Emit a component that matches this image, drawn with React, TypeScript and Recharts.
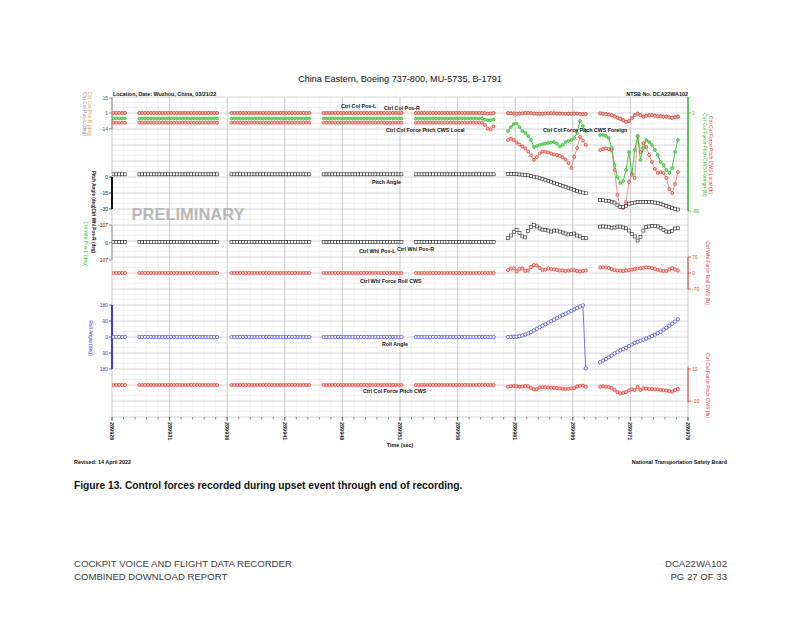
import React from 'react';
import { ComposedChart, Line, XAxis, YAxis, ReferenceLine } from 'recharts';

// ---------------- DATA ----------------
// x axis: time (sec)
const TIME_TICKS = [289926, 289931, 289936, 289941, 289946, 289951, 289956, 289961, 289966, 289971, 289976];
// each recorded block starts at these times, sampled every 0.25 s
const SEGMENT_STARTS = [289926.125, 289928.375, 289936.375, 289944.375, 289952.375, 289960.375, 289968.375];
const SAMPLE_STEP = 0.25;

const COL_POS_CRUISE = [1,1,1,1,1,1,1, 1,1,1,1,1,1,1, 1,1,1,1,1,1,1, 1,1,1,1,1,1,1];
const COL_POS_L = [
  COL_POS_CRUISE.slice(23), COL_POS_CRUISE, COL_POS_CRUISE, COL_POS_CRUISE,
  [1,1,1,1,1,1,1, 1,1,1,1,1,1,1, 1,1,1,1,1,1,1, 1,1,1,0.8,0.5,0.6,0.9],
  [1,0.9,0.6,0.4,0.5,0.8,1, 1.1,0.9,0.6,0.4,0.3,0.4,0.6, 0.7,0.8,0.7,0.6,0.5,0.4,0.3, 0.3,0.4,0.5,0.4,0.2,0,0.1],
  [0.7,0.5,0.1,-0.4,-0.9,-1.8,-3.2, -4.2,-5.6,-7,-6.5,-3.7,-0.9,0.5, -0.9,-2.3,-1.3,-0.9,-0.9,-1.3,-1.8, -1.8,-2.3,-2.3,-2.8,-3.2,-2.8,-2.3],
];
const COL_POS_R = [
  COL_POS_CRUISE.slice(23), COL_POS_CRUISE, COL_POS_CRUISE, COL_POS_CRUISE,
  [1,1,1,1,1,1,1, 1,1,1,1,1,1,1, 1,1,1,1,1,1,1, 1,1,1,0.7,0.4,0.5,0.8],
  [0.8,0.7,0.5,0.3,0.4,0.6,0.9, 1,0.8,0.5,0.3,0.2,0.3,0.5, 0.6,0.7,0.6,0.5,0.4,0.3,0.2, 0.2,0.3,0.4,0.3,0.1,-0.1,0],
  [0.5,0.3,-0.1,-0.6,-1.2,-2.1,-3.6, -4.6,-6,-7.4,-6.8,-4,-1.2,0.2, -1.2,-2.6,-1.6,-1.2,-1.2,-1.6,-2.1, -2.1,-2.6,-2.6,-3.1,-3.5,-3.1,-2.6],
];

const FORCE_LOCAL_CRUISE = [-7,-7,-7,-7,-7,-7,-7, -7,-7,-7,-7,-7,-7,-7, -7,-7,-7,-7,-7,-7,-7, -7,-7,-7,-7,-7,-7,-7];
const CWS_LOCAL = [
  FORCE_LOCAL_CRUISE.slice(23), FORCE_LOCAL_CRUISE, FORCE_LOCAL_CRUISE, FORCE_LOCAL_CRUISE,
  [-7,-7,-7,-7,-7,-7,-7, -7,-7,-7,-7,-7,-7,-7, -7,-7,-7,-7,-7,-7,-7, -7,-7,-7,-9,-12,-12.5,-10],
  [-21.3,-20.1,-21.3,-23.4,-25,-26.7,-28.3, -30.8,-34.1,-37.8,-35.3,-32.5,-30.8,-31.2, -31.6,-32.5,-33.3,-33.7,-34.5,-35.8,-37.4, -40.3,-44.5,-35.3,-27.9,-18.8,-21.7,-25.4],
  [-29.6,-28.8,-28.3,-28.8,-29.6,-46.1,-66.8, -76.7,-77.5,-72.6,-56,-49.4,-52.7,-18, -31.2,-23.8,-27.1,-33.7,-39.5,-45.3,-48.6, -47.8,-48.6,-52.7,-61.8,-65.1,-57.7,-47.8],
];

const FORCE_FOREIGN_CRUISE = [-3.5,-3.5,-3.5,-3.5,-3.5,-3.5,-3.5, -3.5,-3.5,-3.5,-3.5,-3.5,-3.5,-3.5, -3.5,-3.5,-3.5,-3.5,-3.5,-3.5,-3.5, -3.5,-3.5,-3.5,-3.5,-3.5,-3.5,-3.5];
const CWS_FOREIGN = [
  FORCE_FOREIGN_CRUISE.slice(23), FORCE_FOREIGN_CRUISE, FORCE_FOREIGN_CRUISE, FORCE_FOREIGN_CRUISE,
  [-3.5,-3.5,-3.5,-3.5,-3.5,-3.5,-3.5, -3.5,-3.5,-3.5,-3.5,-3.5,-3.5,-3.5, -3.5,-3.5,-3.5,-3.5,-3.5,-3.5,-3.5, -3.5,-3.5,-3.5,-4.5,-5,-5,-4.5],
  [-13.9,-10.6,-8.1,-7.7,-10.6,-13.9,-15.5, -18,-21.3,-27.1,-26.3,-25.4,-24.6,-24.2, -23.8,-23.4,-23,-24.2,-26.7,-25.4,-23, -22.1,-21.3,-19.7,-15.5,-5.6,-9.7,-13.9],
  [-17.2,-17.2,-18,-19.7,-27.9,-42,-51.9, -56.9,-55.2,-46.1,-31.2,-50.2,-29.6,-18, -37.8,-27.9,-21.3,-23,-25.4,-29.6,-33.7, -39.5,-42,-46.1,-48.6,-44.5,-31.2,-21.3],
];

const PITCH_CRUISE = [2.5,2.5,2.5,2.5,2.5,2.5,2.5, 2.5,2.5,2.5,2.5,2.5,2.5,2.5, 2.5,2.5,2.5,2.5,2.5,2.5,2.5, 2.5,2.5,2.5,2.5,2.5,2.5,2.5];
const PITCH_ANGLE = [
  PITCH_CRUISE.slice(23), PITCH_CRUISE, PITCH_CRUISE, PITCH_CRUISE, PITCH_CRUISE,
  [2.8,2.8,2.7,2.6,2.4,2.2,1.9, 1.6,1,0.3,-0.3,-1.2,-2,-2.9, -3.8,-4.7,-5.7,-6.6,-7.5,-8.4,-9.4, -10.3,-11.2,-12.1,-13,-13.8,-14.6,-15.3],
  [-21.5,-21.8,-22.2,-22.6,-23.2,-24,-26.5, -28,-28,-27,-25.5,-24.5,-24,-23.6, -23.4,-23.3,-23.3,-23.4,-23.6,-24,-24.6, -25.3,-26.1,-27,-27.9,-28.8,-29.7,-30.5],
];

const WHL_POS_CRUISE = [-3,-3,-3,-3,-3,-3,-3, -3,-3,-3,-3,-3,-3,-3, -3,-3,-3,-3,-3,-3,-3, -3,-3,-3,-3,-3,-3,-3];
const WHL_POS = [
  WHL_POS_CRUISE.slice(23), WHL_POS_CRUISE, WHL_POS_CRUISE, WHL_POS_CRUISE, WHL_POS_CRUISE,
  [-26,-43,-64,-76,-58,-37,-31, -70,-95,-107,-98,-86,-79,-76, -73,-67,-73,-73,-67,-61,-55, -49,-52,-55,-43,-37,-28,-26],
  [-97,-98,-97,-95,-89,-92,-97, -97,-92,-87,-73,-52,-37,-12, -34,-73,-95,-98,-101,-101,-98, -89,-76,-67,-66,-70,-86,-87],
];

const ZERO_CRUISE = [0,0,0,0,0,0,0, 0,0,0,0,0,0,0, 0,0,0,0,0,0,0, 0,0,0,0,0,0,0];
const WHL_FORCE = [
  ZERO_CRUISE.slice(23), ZERO_CRUISE, ZERO_CRUISE, ZERO_CRUISE, ZERO_CRUISE,
  [13,20,20,7,17,20,9, 11,26,35,33,22,13,15, 20,17,15,13,11,11,9, 11,13,13,9,7,9,11],
  [24,25,24,22,17,13,11, 10,9,11,13,15,17,20, 21,23,25,24,21,17,14, 11,9,9,15,21,15,11],
];

const ROLL_ANGLE = [
  ZERO_CRUISE.slice(23), ZERO_CRUISE, ZERO_CRUISE, ZERO_CRUISE, ZERO_CRUISE,
  [0,-0.5,-1,-2,-5,-9,-14, -20,-28,-37,-46,-55,-63,-72, -80,-89,-98,-106,-115,-124,-131, -139,-147,-155,-163,-171,-178,176],
  [142,133,124,114,104,92,84, 75,68,60,51,42,33,27, 21,15,9,2,-6,-13,-22, -30,-41,-52,-63,-75,-87,-100],
];

const COL_CWS = [
  ZERO_CRUISE.slice(23), ZERO_CRUISE, ZERO_CRUISE, ZERO_CRUISE, ZERO_CRUISE,
  [-1.1,-0.8,-0.6,-0.8,-1.1,-0.9,-0.6, -0.8,-1.9,-2.7,-2.5,-1.6,-1.4,-1.4, -1.6,-1.7,-1.8,-1.9,-2.1,-2.3,-2.5, -2.3,-2.1,-1.9,-0.9,-0.5,-0.4,-1.1],
  [-1.1,-0.9,-1.1,-1.3,-1.9,-3.1,-4.4, -5.2,-5,-4.4,-3.4,-2.7,-3.1,-1.3, -3.1,-2.1,-2.2,-2.5,-2.6,-2.7,-2.8, -3.1,-3.3,-3.4,-3.8,-4.2,-3.1,-2.5],
];

// axis tick labels
const COL_POS_TICKS = [15, 1, -14];
const COL_FORCE_TICKS = [1, -80];
const PITCH_TICKS = [0, -15, -30];
const WHL_POS_TICKS = [-107, 0, 107];
const WHL_FORCE_TICKS = [70, 0, -70];
const ROLL_TICKS = [-180, -90, 0, 90, 180];
const COL_CWS_TICKS = [10, -10];

// ---------------- BUILD TABLE ----------------
const SERIES: Record<string, number[][]> = {
  colPosL: COL_POS_L, colPosR: COL_POS_R, cwsLocal: CWS_LOCAL, cwsForeign: CWS_FOREIGN,
  pitch: PITCH_ANGLE, whlPos: WHL_POS, whlForce: WHL_FORCE, roll: ROLL_ANGLE, colCws: COL_CWS,
};
const KEYS = Object.keys(SERIES);
const ROWS: any[] = [];
SEGMENT_STARTS.forEach((start, s) => {
  const n = Math.max(...KEYS.map((k) => SERIES[k][s].length));
  for (let i = 0; i < n; i++) {
    const row: any = { t: start + i * SAMPLE_STEP };
    KEYS.forEach((k) => { const v = SERIES[k][s][i]; row[k] = v === undefined ? null : v; });
    ROWS.push(row);
  }
  if (s < SEGMENT_STARTS.length - 1) {
    const gap: any = { t: start + (n - 1) * SAMPLE_STEP + 0.6 };
    KEYS.forEach((k) => { gap[k] = null; });
    ROWS.push(gap);
  }
});

// ---------------- LAYOUT ----------------
const PLOT_TOP = 97;
const PLOT_BOTTOM = 417;
const PLOT_LEFT = 112;
const PLOT_RIGHT = 688;
const T0 = TIME_TICKS[0];
const T1 = TIME_TICKS[TIME_TICKS.length - 1];
const TIME_MINOR = Array.from({ length: T1 - T0 + 1 }, (_, i) => T0 + i);
const GRID_LINES = Array.from({ length: 61 }, (_, i) => i);

function anchorDomain(v1: number, p1: number, v2: number, p2: number) {
  const s = (p2 - p1) / (v2 - v1);
  const atTop = v1 + (PLOT_TOP - p1) / s;
  const atBottom = v1 + (PLOT_BOTTOM - p1) / s;
  return s < 0
    ? { domain: [atBottom, atTop] as [number, number], reversed: false }
    : { domain: [atTop, atBottom] as [number, number], reversed: true };
}
const AX_COLPOS = anchorDomain(1, 113, -14, 129);
const AX_COLFORCE = anchorDomain(1, 113, -80, 211);
const AX_PITCH = anchorDomain(0, 177, -30, 209);
const AX_WHLPOS = anchorDomain(-107, 225, 107, 260);
const AX_WHLFORCE = anchorDomain(70, 257, -70, 289);
const AX_ROLL = anchorDomain(-180, 305, 180, 369);
const AX_COLCWS = anchorDomain(10, 369, -10, 401);

const FONT = '"Liberation Sans", Arial, sans-serif';
const RED = '#dd3a32';
const GREEN = '#2fbf2f';
const BLUE = '#3b3bcc';

function circleDot(stroke: string, fill: string, r: number, sw = 0.7) {
  return (p: any) => {
    if (!p || p.cx == null || p.cy == null || Number.isNaN(p.cy)) return <g key={`n-${p?.index}`} />;
    return <circle key={`c-${p.index}`} cx={p.cx} cy={p.cy} r={r} stroke={stroke} strokeWidth={sw} fill={fill} />;
  };
}
function squareDot(stroke: string, fill: string, size: number) {
  return (p: any) => {
    if (!p || p.cx == null || p.cy == null || Number.isNaN(p.cy)) return <g key={`n-${p?.index}`} />;
    return <rect key={`s-${p.index}`} x={p.cx - size / 2} y={p.cy - size / 2} width={size} height={size} stroke={stroke} strokeWidth={0.6} fill={fill} />;
  };
}

// y tick: mark + label drawn at the plot edge, at the library-computed y
function yTick(side: 'left' | 'right', color: string, markColor: string) {
  return (p: any) => {
    const edge = side === 'left' ? PLOT_LEFT : PLOT_RIGHT;
    const dir = side === 'left' ? -1 : 1;
    return (
      <g key={`yt-${p.index}`}>
        <line x1={edge} x2={edge + dir * 3} y1={p.y} y2={p.y} stroke={markColor} strokeWidth={0.8} />
        <text x={edge + dir * 4} y={p.y} textAnchor={side === 'left' ? 'end' : 'start'} dominantBaseline="central"
          fontSize={5} fill={color} fontFamily={FONT}>{p.payload.value}</text>
      </g>
    );
  };
}

const TimeTick = (p: any) => (
  <g key={`xt-${p.index}`}>
    <line x1={p.x} x2={p.x} y1={PLOT_BOTTOM} y2={PLOT_BOTTOM + 4} stroke="#555" strokeWidth={0.8} />
    <text transform={`translate(${p.x},${PLOT_BOTTOM + 5}) rotate(90)`} textAnchor="start" dominantBaseline="central"
      fontSize={5.5} fontWeight="bold" fill="#222" fontFamily={FONT}>{p.payload.value}</text>
  </g>
);
const MinorTick = (p: any) => (
  <line key={`mt-${p.index}`} x1={p.x} x2={p.x} y1={PLOT_BOTTOM} y2={PLOT_BOTTOM + 2.5} stroke="#555" strokeWidth={0.7} />
);

const lineCommon = { type: 'linear' as const, isAnimationActive: false, connectNulls: false, activeDot: false as const };
const yCommon = { type: 'number' as const, width: 1, interval: 0 as const, allowDataOverflow: true, axisLine: false, tickLine: false };

const Rot = ({ x, y, color, size = 5, weight = 'normal', children }: any) => (
  <text transform={`translate(${x},${y}) rotate(90)`} textAnchor="middle" dominantBaseline="central"
    fontSize={size} fontWeight={weight} fill={color} fontFamily={FONT}>{children}</text>
);
const Lbl = ({ x, y, anchor = 'start', size = 5.3, weight = 'bold', color = '#111', children }: any) => (
  <text x={x} y={y} textAnchor={anchor} dominantBaseline="central" fontSize={size} fontWeight={weight} fill={color} fontFamily={FONT}>{children}</text>
);

export default function App() {
  return (
    <div style={{ position: 'absolute', left: 0, top: 0, width: 800, height: 618, background: '#fff' }}>
      <ComposedChart width={800} height={618} data={ROWS} margin={{ top: PLOT_TOP, right: 800 - PLOT_RIGHT - 3, bottom: 618 - PLOT_BOTTOM - 2, left: PLOT_LEFT - 4 }}>
        <XAxis dataKey="t" type="number" domain={[T0, T1]} ticks={TIME_TICKS} interval={0} height={1} allowDataOverflow
          tick={TimeTick} tickLine={false} axisLine={false} />
        <XAxis xAxisId="minor" dataKey="t" type="number" domain={[T0, T1]} ticks={TIME_MINOR} interval={0} height={1} allowDataOverflow
          tick={MinorTick} tickLine={false} axisLine={false} />
        <YAxis yAxisId="grid" type="number" domain={[0, 60]} hide allowDataOverflow />

        {/* grid */}
        {TIME_MINOR.map((t) => (
          <ReferenceLine key={`gv-${t}`} x={t} yAxisId="grid" stroke={(t - T0) % 5 === 0 ? '#b9b9b9' : '#e8e8e8'} strokeWidth={(t - T0) % 5 === 0 ? 0.8 : 0.5} />
        ))}
        {GRID_LINES.map((g) => (
          <ReferenceLine key={`gh-${g}`} y={g} yAxisId="grid" stroke={g % 3 === 0 ? '#c6c6c6' : '#e3e3e3'} strokeWidth={g % 3 === 0 ? 0.7 : 0.5} />
        ))}

        <YAxis yAxisId="colPos" orientation="left" {...yCommon} domain={AX_COLPOS.domain} reversed={AX_COLPOS.reversed}
          ticks={COL_POS_TICKS} tick={yTick('left', '#555', '#777')} />
        <YAxis yAxisId="pitch" orientation="left" {...yCommon} domain={AX_PITCH.domain} reversed={AX_PITCH.reversed}
          ticks={PITCH_TICKS} tick={yTick('left', '#111', '#111')} />
        <YAxis yAxisId="whlPos" orientation="left" {...yCommon} domain={AX_WHLPOS.domain} reversed={AX_WHLPOS.reversed}
          ticks={WHL_POS_TICKS} tick={yTick('left', '#111', '#777')} />
        <YAxis yAxisId="roll" orientation="left" {...yCommon} domain={AX_ROLL.domain} reversed={AX_ROLL.reversed}
          ticks={ROLL_TICKS} tick={yTick('left', BLUE, BLUE)} />
        <YAxis yAxisId="colForce" orientation="right" {...yCommon} domain={AX_COLFORCE.domain} reversed={AX_COLFORCE.reversed}
          ticks={COL_FORCE_TICKS} tick={yTick('right', GREEN, GREEN)} />
        <YAxis yAxisId="whlForce" orientation="right" {...yCommon} domain={AX_WHLFORCE.domain} reversed={AX_WHLFORCE.reversed}
          ticks={WHL_FORCE_TICKS} tick={yTick('right', RED, RED)} />
        <YAxis yAxisId="colCws" orientation="right" {...yCommon} domain={AX_COLCWS.domain} reversed={AX_COLCWS.reversed}
          ticks={COL_CWS_TICKS} tick={yTick('right', RED, RED)} />

        {/* panel axis lines */}
        <ReferenceLine yAxisId="colPos" ifOverflow="visible" stroke="#8a8a8a" strokeWidth={1}
          segment={[{ x: T0, y: COL_POS_TICKS[0] }, { x: T0, y: COL_POS_TICKS[2] }]} />
        <ReferenceLine yAxisId="pitch" ifOverflow="visible" stroke="#111" strokeWidth={2}
          segment={[{ x: T0, y: PITCH_TICKS[0] }, { x: T0, y: PITCH_TICKS[2] }]} />
        <ReferenceLine yAxisId="whlPos" ifOverflow="visible" stroke="#999" strokeWidth={1}
          segment={[{ x: T0, y: WHL_POS_TICKS[0] }, { x: T0, y: WHL_POS_TICKS[2] }]} />
        <ReferenceLine yAxisId="roll" ifOverflow="visible" stroke={BLUE} strokeWidth={2}
          segment={[{ x: T0, y: ROLL_TICKS[0] }, { x: T0, y: ROLL_TICKS[4] }]} />
        <ReferenceLine yAxisId="colForce" ifOverflow="visible" stroke={GREEN} strokeWidth={1.5}
          segment={[{ x: T1, y: AX_COLFORCE.domain[1] }, { x: T1, y: COL_FORCE_TICKS[1] }]} />
        <ReferenceLine yAxisId="whlForce" ifOverflow="visible" stroke={RED} strokeWidth={1}
          segment={[{ x: T1, y: WHL_FORCE_TICKS[0] }, { x: T1, y: WHL_FORCE_TICKS[2] }]} />
        <ReferenceLine yAxisId="colCws" ifOverflow="visible" stroke={RED} strokeWidth={1}
          segment={[{ x: T1, y: COL_CWS_TICKS[0] + 1 }, { x: T1, y: COL_CWS_TICKS[1] - 1 }]} />

        {/* series */}
        <Line {...lineCommon} yAxisId="colPos" dataKey="colPosL" stroke="#a8687e" strokeWidth={0.8} dot={circleDot('#a05a78', '#e8b0b8', 1.5)} />
        <Line {...lineCommon} yAxisId="colPos" dataKey="colPosR" stroke="#c8664e" strokeWidth={0.8} dot={circleDot('#c85a48', '#f0b0a0', 1.5)} />
        <Line {...lineCommon} yAxisId="colForce" dataKey="cwsLocal" stroke="#e86a62" strokeWidth={0.7} dot={circleDot(RED, '#f6b8b2', 1.5)} />
        <Line {...lineCommon} yAxisId="colForce" dataKey="cwsForeign" stroke={GREEN} strokeWidth={0.9} dot={circleDot('#2ab52a', '#7fe87f', 1.4)} />
        <Line {...lineCommon} yAxisId="pitch" dataKey="pitch" stroke="#777" strokeWidth={0.5} dot={squareDot('#222', '#fff', 3)} />
        <Line {...lineCommon} yAxisId="whlPos" dataKey="whlPos" stroke="#777" strokeWidth={0.5} dot={squareDot('#222', '#fff', 3)} />
        <Line {...lineCommon} yAxisId="whlForce" dataKey="whlForce" stroke="#e86a62" strokeWidth={0.7} dot={circleDot(RED, '#f6c4c0', 1.6)} />
        <Line {...lineCommon} yAxisId="roll" dataKey="roll" stroke="#5050d8" strokeWidth={0.8} dot={circleDot(BLUE, '#fff', 1.7)} />
        <Line {...lineCommon} yAxisId="colCws" dataKey="colCws" stroke="#e86a62" strokeWidth={0.7} dot={circleDot(RED, '#f6b8b2', 1.6)} />
      </ComposedChart>

      <svg width={800} height={618} style={{ position: 'absolute', left: 0, top: 0, pointerEvents: 'none' }}>
        <Lbl x={400} y={79} anchor="middle" size={9.1} weight="normal" color="#111">China Eastern, Boeing 737-800, MU-5735, B-1791</Lbl>
        <Lbl x={113} y={93.5} size={5.4}>Location, Date: Wuzhou, China, 03/21/22</Lbl>
        <Lbl x={688} y={93.5} anchor="end" size={5.4}>NTSB No. DCA22WA102</Lbl>

        <Lbl x={341} y={106}>Ctrl Col Pos-L</Lbl>
        <Lbl x={384} y={108}>Ctrl Col Pos-R</Lbl>
        <Lbl x={386} y={130}>Ctrl Col Force Pitch CWS Local</Lbl>
        <Lbl x={543} y={129.5}>Ctrl Col Force Pitch CWS Foreign</Lbl>
        <Lbl x={372} y={182}>Pitch Angle</Lbl>
        <Lbl x={359} y={250.5}>Ctrl Whl Pos-L</Lbl>
        <Lbl x={397} y={248.5}>Ctrl Whl Pos-R</Lbl>
        <Lbl x={360} y={281}>Ctrl Whl Force Roll CWS</Lbl>
        <Lbl x={382} y={343.5}>Roll Angle</Lbl>
        <Lbl x={363} y={390.5}>Ctrl Col Force Pitch CWS</Lbl>
        <Lbl x={131.5} y={214} size={16.5} color="#b8b8b8">PRELIMINARY</Lbl>
        <Lbl x={400} y={445} anchor="middle" size={5.4}>Time (sec)</Lbl>
        <Lbl x={74} y={462} size={5.4}>Revised: 14 April 2022</Lbl>
        <Lbl x={727} y={462} anchor="end" size={5.4}>National Transportation Safety Board</Lbl>

        <Rot x={84.5} y={114} color="#9a82b8">Ctrl Col Pos-L (deg)</Rot>
        <Rot x={90} y={114} color="#e0a030">Ctrl Col Pos-R (deg)</Rot>
        <Rot x={93.5} y={212} color="#111" size={4.6} weight="bold">Pitch Angle (deg)Ctrl Whl Pos-R (deg)</Rot>
        <Rot x={85.5} y={244} color={GREEN}>Ctrl Whl Pos-L (deg)</Rot>
        <Rot x={91} y={338} color={BLUE}>Roll Angle (deg)</Rot>
        <Rot x={710.5} y={155} color={RED}>Ctrl Col Force Pitch CWS Local (lb)</Rot>
        <Rot x={704.5} y={155} color={GREEN}>Ctrl Col Force Pitch CWS Foreign (lb)</Rot>
        <Rot x={707.5} y={273} color={RED}>Ctrl Whl Force Roll CWS (lb)</Rot>
        <Rot x={707.5} y={385.5} color={RED}>Ctrl Col Force Pitch CWS (lb)</Rot>

        <Lbl x={74} y={485} size={10.2} weight="bold" color="#111">Figure 13. Control forces recorded during upset event through end of recording.</Lbl>
        <Lbl x={74} y={563} size={9.6} weight="normal" color="#3a3a3a">COCKPIT VOICE AND FLIGHT DATA RECORDER</Lbl>
        <Lbl x={74} y={576} size={9.6} weight="normal" color="#3a3a3a">COMBINED DOWNLOAD REPORT</Lbl>
        <Lbl x={727} y={563} anchor="end" size={9.6} weight="normal" color="#3a3a3a">DCA22WA102</Lbl>
        <Lbl x={727} y={576} anchor="end" size={9.6} weight="normal" color="#3a3a3a">PG 27 OF 33</Lbl>
      </svg>
    </div>
  );
}
